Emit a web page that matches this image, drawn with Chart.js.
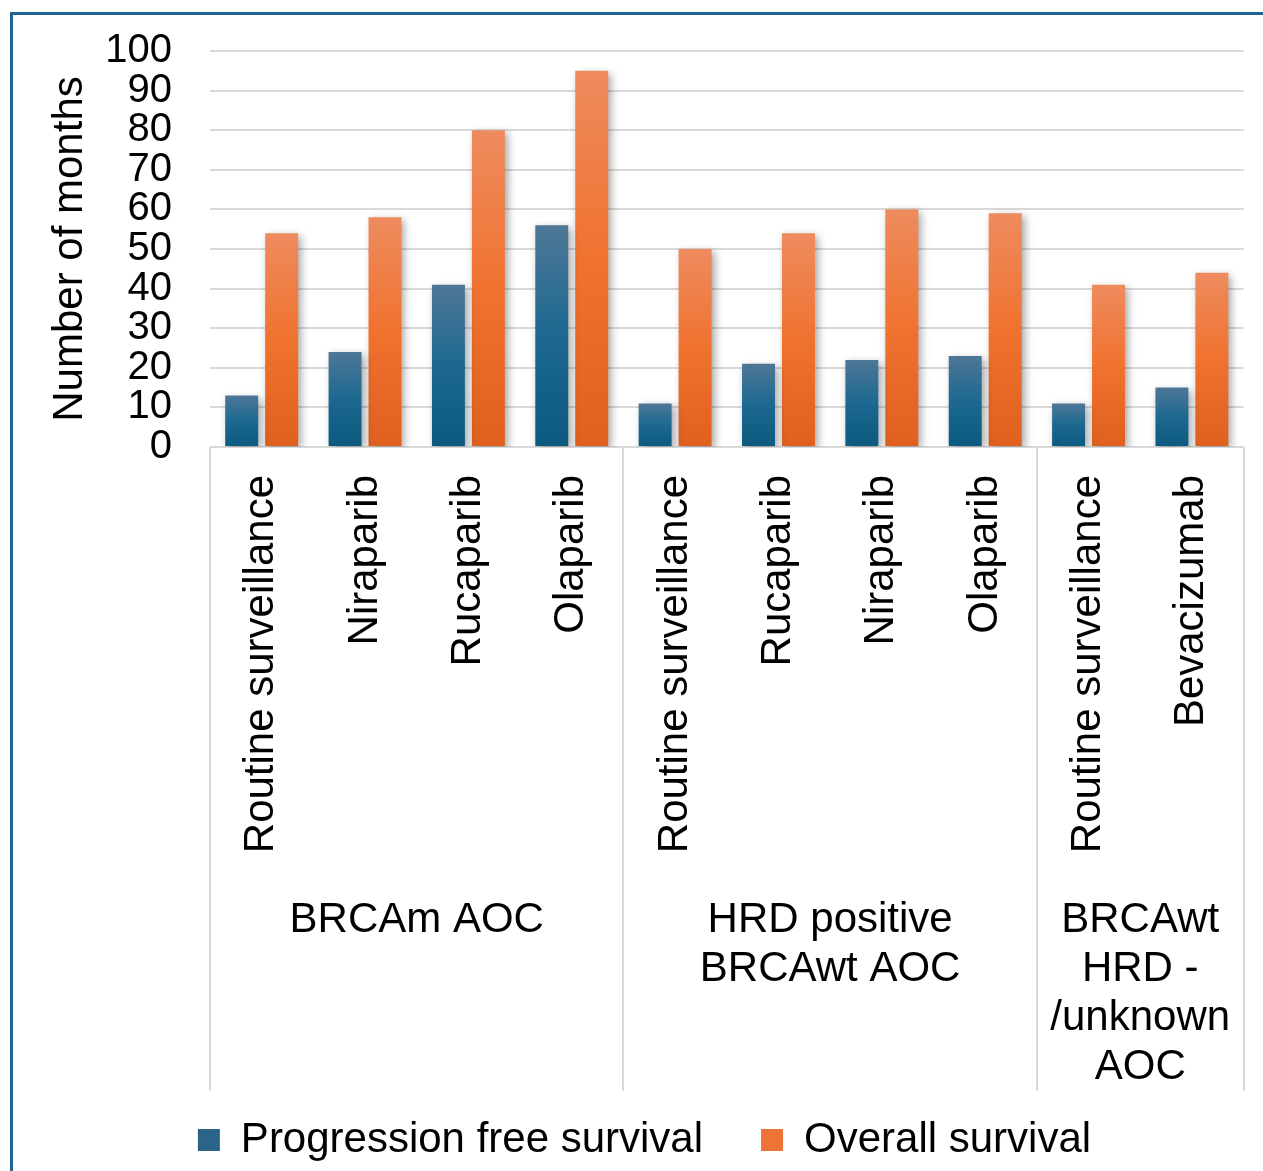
<!DOCTYPE html>
<html lang="en">
<head>
    <meta charset="UTF-8">
    <title>Number of months by treatment</title>
    <style>
        html, body {
            margin: 0;
            padding: 0;
            background: #ffffff;
            overflow: hidden;
        }
        .frame {
            position: absolute;
            left: 10px;
            top: 12px;
            width: 2000px;
            height: 2000px;
            border-left: 3px solid #1f6692;
            border-top: 3px solid #1f6692;
        }
        #wrap {
            position: relative;
            width: 1263px;
            height: 1171px;
        }
    </style>
</head>
<body>
    <div class="frame"></div>
    <div id="wrap">
        <canvas id="chart"></canvas>
    </div>

    <script src="https://cdn.jsdelivr.net/npm/chart.js"></script>
    <script>
        const categories = ['Routine surveillance', 'Niraparib', 'Rucaparib', 'Olaparib',
                            'Routine surveillance', 'Rucaparib', 'Niraparib', 'Olaparib',
                            'Routine surveillance', 'Bevacizumab'];
        const groupNames = [['BRCAm AOC'], ['HRD positive', 'BRCAwt AOC'], ['BRCAwt', 'HRD -', '/unknown', 'AOC']];
        const groupSizes = [4, 4, 2];
        const pfsValues = [13, 24, 41, 56, 11, 21, 22, 23, 11, 15];
        const osValues = [54, 58, 80, 95, 50, 54, 60, 59, 41, 44];
        const yTicks = [0, 10, 20, 30, 40, 50, 60, 70, 80, 90, 100];

        const fontFamily = 'Arial, "Liberation Sans", sans-serif';
        const blueStops = ['#4e7797', '#1c6890', '#0c5a80'];
        const orangeStops = ['#ee8b5e', '#f0722f', '#e0601e'];

        // per-bar vertical gradient, lighter at the top like the office style
        function barGradient(stops) {
            return function(ctx) {
                const chart = ctx.chart;
                const y = chart.scales.y;
                if (ctx.type !== 'data' || !y || !chart.chartArea) return stops[1];
                const top = y.getPixelForValue(ctx.raw);
                const base = y.getPixelForValue(0);
                if (!isFinite(top) || !isFinite(base) || top === base) return stops[1];
                const g = chart.ctx.createLinearGradient(0, top, 0, base);
                g.addColorStop(0, stops[0]);
                g.addColorStop(0.5, stops[1]);
                g.addColorStop(1, stops[2]);
                return g;
            };
        }

        const barShadow = {
            id: 'barShadow',
            beforeDatasetsDraw(chart) {
                const c = chart.ctx;
                c.save();
                c.shadowColor = 'rgba(0, 0, 0, 0.35)';
                c.shadowBlur = 8;
                c.shadowOffsetX = 3;
                c.shadowOffsetY = 3;
            },
            afterDatasetsDraw(chart) {
                chart.ctx.restore();
            }
        };

        // group separators and group names under the rotated labels
        const groupAxis = {
            id: 'groupAxis',
            afterDraw(chart) {
                const x = chart.scales.x;
                const c = chart.ctx;
                const catW = (x.right - x.left) / categories.length;
                const top = x.top;
                const bottom = x.top + 644;
                c.save();
                c.strokeStyle = '#d9d9d9';
                c.lineWidth = 2;
                let idx = 0;
                const edges = [0];
                groupSizes.forEach(n => { idx += n; edges.push(idx); });
                edges.forEach(e => {
                    const px = Math.round(x.left + e * catW);
                    c.beginPath();
                    c.moveTo(px, top);
                    c.lineTo(px, bottom);
                    c.stroke();
                });
                c.fillStyle = '#000000';
                c.font = '42px ' + fontFamily;
                c.textAlign = 'center';
                c.textBaseline = 'middle';
                groupNames.forEach((lines, g) => {
                    const cx = x.left + (edges[g] + edges[g + 1]) / 2 * catW;
                    lines.forEach((line, i) => {
                        c.fillText(line, cx, 920 + i * 49);
                    });
                });
                c.restore();
            }
        };

        const chart = new Chart(document.getElementById('chart'), {
            type: 'bar',
            data: {
                labels: categories,
                datasets: [
                    {
                        label: 'Progression free survival',
                        data: pfsValues,
                        backgroundColor: barGradient(blueStops),
                        legendColor: '#2b6488',
                        borderWidth: 0,
                        categoryPercentage: 0.773,
                        barPercentage: 0.825
                    },
                    {
                        label: 'Overall survival',
                        data: osValues,
                        backgroundColor: barGradient(orangeStops),
                        legendColor: '#ed7336',
                        borderWidth: 0,
                        categoryPercentage: 0.773,
                        barPercentage: 0.825
                    }
                ]
            },
            options: {
                responsive: true,
                maintainAspectRatio: false,
                animation: false,
                layout: {
                    padding: { top: 51, right: 14, bottom: 0, left: 40 }
                },
                plugins: {
                    tooltip: { enabled: false },
                    legend: {
                        position: 'bottom',
                        labels: {
                            color: '#000000',
                            font: { family: fontFamily, size: 42 },
                            boxWidth: 22,
                            boxHeight: 22,
                            padding: 58,
                            generateLabels(chart) {
                                return chart.data.datasets.map((ds, i) => ({
                                    text: ds.label,
                                    fillStyle: ds.legendColor,
                                    strokeStyle: ds.legendColor,
                                    lineWidth: 0,
                                    fontColor: '#000000',
                                    datasetIndex: i,
                                    hidden: false
                                }));
                            }
                        }
                    }
                },
                scales: {
                    x: {
                        grid: { display: false },
                        border: { display: false },
                        ticks: {
                            color: '#000000',
                            font: { family: fontFamily, size: 42 },
                            minRotation: 90,
                            maxRotation: 90,
                            autoSkip: false,
                            padding: 20
                        },
                        afterFit(scale) {
                            scale.height = 614;
                        }
                    },
                    y: {
                        min: 0,
                        max: 100,
                        afterBuildTicks(scale) {
                            scale.ticks = yTicks.map(v => ({ value: v }));
                        },
                        grid: {
                            color: '#d9d9d9',
                            lineWidth: 2,
                            drawTicks: true,
                            tickLength: 35,
                            tickColor: 'rgba(0, 0, 0, 0)'
                        },
                        border: { display: false },
                        ticks: {
                            color: '#000000',
                            font: { family: fontFamily, size: 40 },
                            autoSkip: false,
                            padding: 3
                        },
                        title: {
                            display: true,
                            text: 'Number of months',
                            color: '#000000',
                            font: { family: fontFamily, size: 42 },
                            padding: { top: 5, bottom: 0 }
                        },
                        afterFit(scale) {
                            scale.width = 170;
                        }
                    }
                }
            },
            plugins: [barShadow, groupAxis]
        });
    </script>
</body>
</html>
